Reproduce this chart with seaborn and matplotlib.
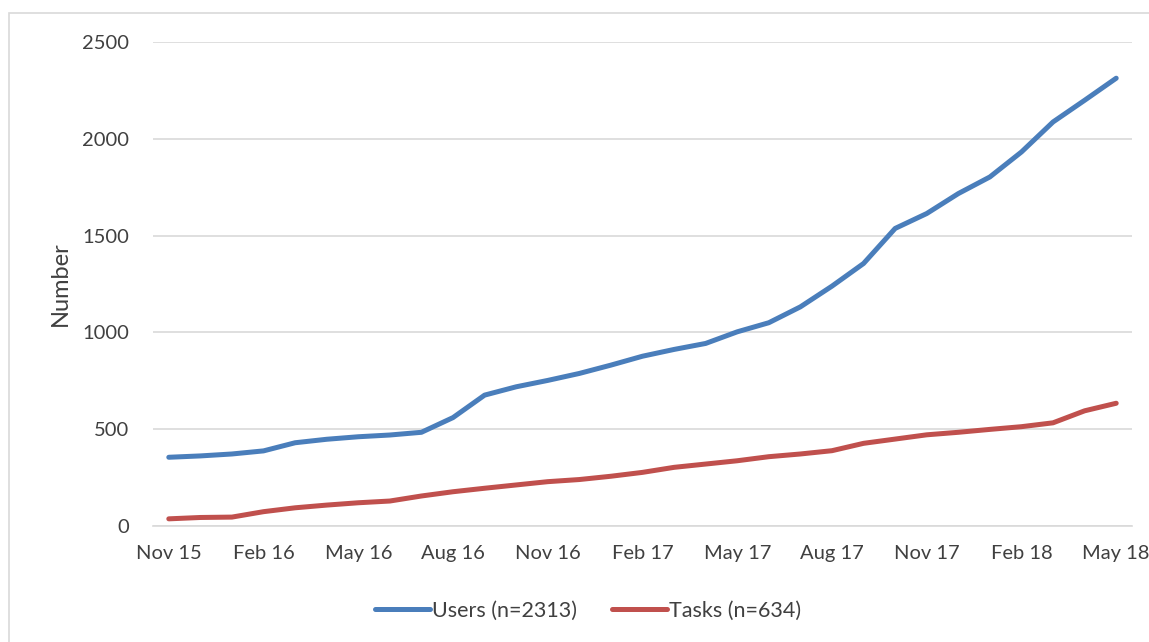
import matplotlib.pyplot as plt
import matplotlib.patches as mpatches
import seaborn as sns
import numpy as np
import pandas as pd

# data (monthly, Nov 15 .. May 18)
months = ["Nov 15", "Dec 15", "Jan 16", "Feb 16", "Mar 16", "Apr 16", "May 16",
          "Jun 16", "Jul 16", "Aug 16", "Sep 16", "Oct 16", "Nov 16", "Dec 16",
          "Jan 17", "Feb 17", "Mar 17", "Apr 17", "May 17", "Jun 17", "Jul 17",
          "Aug 17", "Sep 17", "Oct 17", "Nov 17", "Dec 17", "Jan 18", "Feb 18",
          "Mar 18", "Apr 18", "May 18"]
users = [355, 362, 372, 388, 430, 448, 461, 470, 484, 560, 676, 719, 752, 788,
         831, 877, 912, 943, 1003, 1050, 1132, 1239, 1356, 1537, 1614, 1717,
         1803, 1932, 2087, 2199, 2313]
tasks = [37, 44, 46, 74, 94, 108, 120, 129, 155, 177, 195, 212, 229, 240,
         257, 277, 303, 320, 337, 358, 372, 389, 427, 449, 471, 484, 499,
         513, 533, 595, 634]
series_names = ["Users (n=2313)", "Tasks (n=634)"]
yticks = [0, 500, 1000, 1500, 2000, 2500]

n = len(months)
df = pd.DataFrame({
    "idx": list(range(n)) * 2,
    "value": users + tasks,
    "series": [series_names[0]] * n + [series_names[1]] * n,
})

sns.set_style("white")
plt.rcParams['font.family'] = ['Lato', 'DejaVu Sans']

txt = '#404040'
grid = '#d9d9d9'
blue = '#4a7ebb'
red = '#c0504d'

W, H = 1149, 642
fig = plt.figure(figsize=(W / 100, H / 100), dpi=100)
ax = fig.add_axes([153 / W, 1 - 526 / H, (1132 - 153) / W, (526 - 42) / H])

sns.lineplot(data=df, x="idx", y="value", hue="series", hue_order=series_names,
             palette=[blue, red], linewidth=3.6, ax=ax)
for ln in ax.lines:
    ln.set_solid_capstyle('round')
    ln.set_solid_joinstyle('round')

# axes
ax.set_ylim(0, 2500)
ax.set_yticks(yticks)
ax.set_xlim(-0.5, n - 0.5)
ax.set_xticks(range(0, n, 3))
ax.set_xticklabels(months[::3])
ax.set_xticks(np.arange(-0.5, n - 1, 3), minor=True)
ax.tick_params(axis='x', which='major', length=0, pad=14, labelsize=14.5, labelcolor=txt)
ax.tick_params(axis='x', which='minor', length=6, width=1.2, color=grid, direction='out')
ax.tick_params(axis='y', length=0, pad=17, labelsize=14.5, labelcolor=txt)
ax.yaxis.grid(True, color=grid, linewidth=1.2)
ax.set_axisbelow(True)
for s in ['left', 'right', 'top']:
    ax.spines[s].set_visible(False)
ax.spines['bottom'].set_color(grid)
ax.spines['bottom'].set_linewidth(1.2)
ax.set_xlabel("")
ax.set_ylabel("Number", fontsize=17, color=txt)
ax.yaxis.set_label_coords(-0.084, 0.5)

# legend below the plot
sns.move_legend(ax, "center", bbox_to_anchor=(588 / W, 1 - 611 / H),
                bbox_transform=fig.transFigure, ncol=2, frameon=False, title=None,
                fontsize=15.5, handlelength=2.55, handletextpad=0.12, columnspacing=1.6)
leg = ax.get_legend()
for h in leg.get_lines():
    h.set_linewidth(3.6)
    h.set_solid_capstyle('round')
for t in leg.get_texts():
    t.set_color(txt)

# chart area border
fig.patches.append(mpatches.Rectangle((9 / W, -0.1), 1.2, 1 - 13 / H + 0.1,
                                      transform=fig.transFigure, fill=False,
                                      edgecolor=grid, linewidth=1.2))

fig.savefig("out.png", dpi=100)
